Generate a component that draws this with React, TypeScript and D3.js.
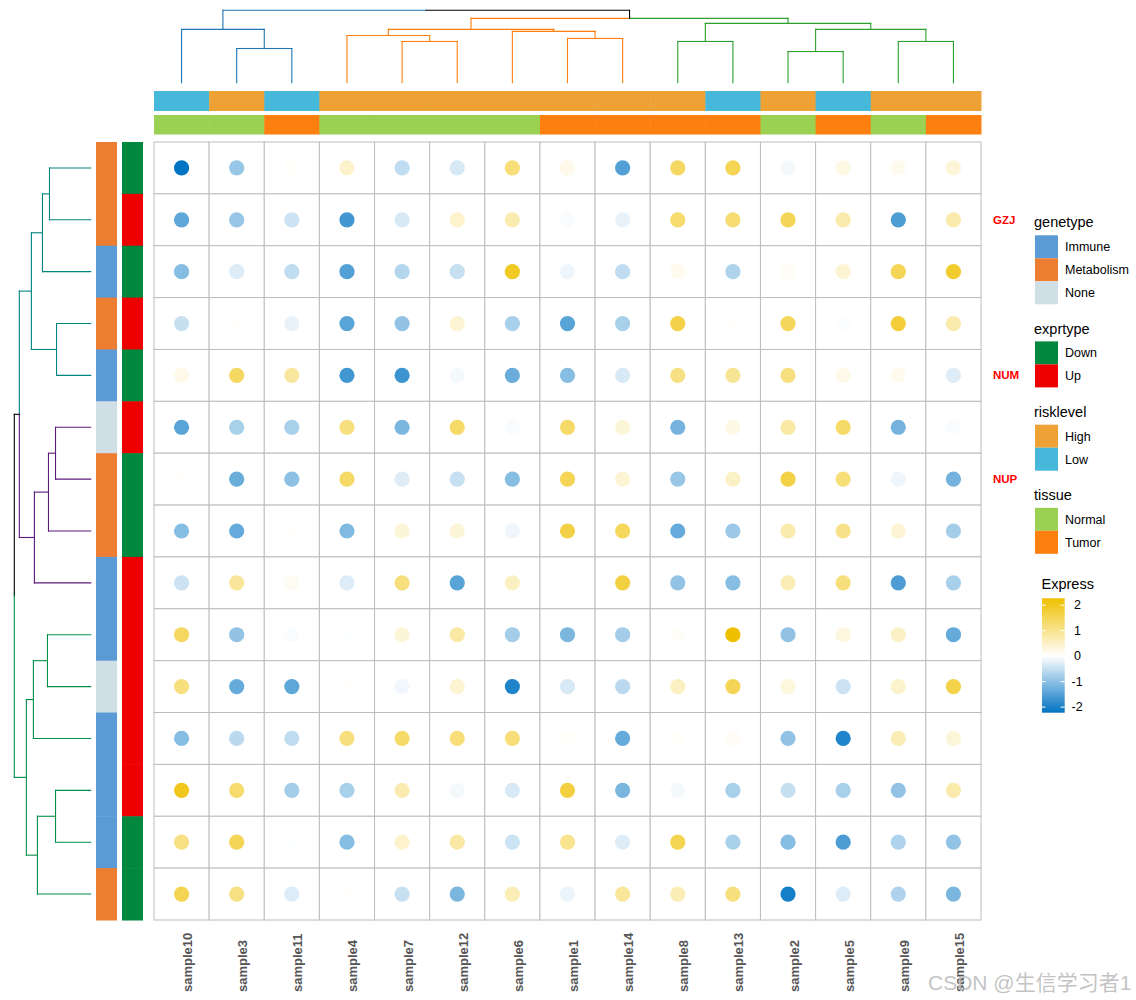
import React from 'react';
import * as d3 from 'd3';

// ---------------- data ----------------
const samples = ["sample10","sample3","sample11","sample4","sample7","sample12","sample6","sample1","sample14","sample8","sample13","sample2","sample5","sample9","sample15"];
const rowLabels = ["", "GZJ", "", "", "NUM", "", "NUP", "", "", "", "", "", "", "", ""];
const genetype = ["Metabolism","Metabolism","Immune","Metabolism","Immune","None","Metabolism","Metabolism","Immune","Immune","None","Immune","Immune","Immune","Metabolism"];
const exprtype = ["Down","Up","Down","Up","Down","Up","Down","Down","Up","Up","Up","Up","Up","Down","Down"];
const risklevel = ["Low","High","Low","High","High","High","High","High","High","High","Low","High","Low","High","High"];
const tissue = ["Normal","Normal","Tumor","Normal","Normal","Normal","Normal","Tumor","Tumor","Tumor","Tumor","Normal","Tumor","Normal","Tumor"];

const expr: number[][] = [
  [-2.22,-0.9,0.05,0.45,-0.55,-0.35,1.2,0.2,-1.5,1.4,1.5,-0.1,0.25,0.15,0.35],
  [-1.4,-0.9,-0.45,-1.65,-0.35,0.45,0.7,-0.05,-0.2,1.3,1.25,1.5,0.75,-1.55,0.75],
  [-1.05,-0.3,-0.55,-1.5,-0.65,-0.5,1.95,-0.15,-0.55,0.15,-0.7,0.1,0.4,1.5,1.85],
  [-0.5,0.03,-0.2,-1.45,-0.95,0.4,-0.75,-1.45,-0.75,1.6,0.03,1.45,-0.03,1.75,0.75],
  [0.2,1.4,0.85,-1.65,-1.7,-0.1,-1.3,-1.05,-0.35,1.1,0.95,1.15,0.2,0.15,-0.3],
  [-1.45,-0.75,-0.75,1.15,-1.15,1.35,-0.05,1.35,0.35,-1.2,0.25,0.8,1.35,-1.2,-0.05],
  [0.02,-1.3,-1.0,1.35,-0.3,-0.5,-1.05,1.5,0.4,-0.9,0.5,1.65,1.2,-0.15,-1.2],
  [-1.05,-1.35,0.03,-1.1,0.35,0.35,-0.15,1.65,1.45,-1.35,-0.85,0.75,1.05,0.4,-0.8],
  [-0.45,0.9,0.12,-0.3,1.15,-1.45,0.55,0.02,1.7,-0.95,-1.05,0.65,1.15,-1.55,-0.75],
  [1.4,-0.95,-0.05,-0.02,0.35,0.8,-0.8,-1.15,-0.8,0.07,2.27,-0.95,0.3,0.5,-1.35],
  [1.15,-1.35,-1.4,0.02,-0.12,0.4,-1.95,-0.35,-0.6,0.55,1.5,0.3,-0.45,0.45,1.6],
  [-1.05,-0.6,-0.55,1.15,1.35,1.2,1.2,0.05,-1.35,0.05,0.1,-0.95,-1.95,0.65,0.35],
  [2.0,1.3,-0.8,-0.75,0.7,-0.1,-0.35,1.7,-1.15,-0.1,-0.75,-0.5,-0.75,-0.95,0.75],
  [1.1,1.5,-0.02,-1.05,0.45,0.8,-0.45,1.0,-0.3,1.55,-0.75,-1.05,-1.55,-0.7,-0.95],
  [1.55,1.1,-0.3,0.03,-0.5,-1.15,0.65,-0.18,0.9,0.65,1.15,-2.05,-0.3,-0.7,-1.15],
];

const colorTicks = [-2, -1, 0, 1, 2];

// dendrograms (merge heights, leaves are indices)
type TNode = number | { h: number; col?: string; c: TNode[] };
const colClusterColors = ["#1f77b4", "#ff7f0e", "#2ca02c"];
const rowClusterColors = ["#00857f", "#5b1a7d", "#009048"];

const colTree: TNode = { h: 7.2, col: "#000000", c: [
  { h: 5.3, col: colClusterColors[0], c: [0, { h: 3.4, c: [1, 2] }] },
  { h: 6.4, col: "#000000", c: [
    { h: 5.3, col: colClusterColors[1], c: [
      { h: 4.7, c: [3, { h: 4.1, c: [4, 5] }] },
      { h: 5.1, c: [6, { h: 4.4, c: [7, 8] }] },
    ] },
    { h: 5.9, col: colClusterColors[2], c: [
      { h: 4.1, c: [9, 10] },
      { h: 5.3, c: [{ h: 3.1, c: [11, 12] }, { h: 4.1, c: [13, 14] }] },
    ] },
  ] },
] };

const rowTree: TNode = { h: 7.6, col: "#000000", c: [
  { h: 7.1, col: "#000000", c: [
    { h: 5.9, col: rowClusterColors[0], c: [
      { h: 4.8, c: [{ h: 4.1, c: [0, 1] }, 2] },
      { h: 3.4, c: [3, 4] },
    ] },
    { h: 5.6, col: rowClusterColors[1], c: [
      { h: 4.2, c: [{ h: 3.5, c: [5, 6] }, 7] },
      8,
    ] },
  ] },
  { h: 6.4, col: rowClusterColors[2], c: [
    { h: 5.7, c: [{ h: 4.3, c: [9, 10] }, 11] },
    { h: 5.3, c: [{ h: 3.5, c: [12, 13] }, 14] },
  ] },
] };

const genetypeColors: Record<string, string> = { Immune: "#5b9bd5", Metabolism: "#ed7d31", None: "#d0dfe6" };
const exprtypeColors: Record<string, string> = { Down: "#00883f", Up: "#ee0000" };
const riskColors: Record<string, string> = { High: "#eea236", Low: "#46b8da" };
const tissueColors: Record<string, string> = { Normal: "#9bd152", Tumor: "#fd7f10" };

// ---------------- layout ----------------
const W = 1136, H = 1000;
const hmX0 = 154, hmX1 = 981, hmY0 = 142, hmY1 = 920;
const FONT = "'Liberation Sans', Arial, 'Noto Sans CJK SC', sans-serif";

type Seg = { x1: number; y1: number; x2: number; y2: number; color: string };

function layoutTree(node: TNode, posOf: (i: number) => number, inherited: string, segs: { p1: number; h1: number; p2: number; h2: number; color: string }[]): { pos: number; h: number; color: string } {
  if (typeof node === "number") return { pos: posOf(node), h: 0, color: inherited };
  const color = node.col ?? inherited;
  const kids = node.c.map(k => layoutTree(k, posOf, color, segs));
  const pos = d3.mean(kids, k => k.pos) as number;
  kids.forEach(k => {
    segs.push({ p1: k.pos, h1: k.h, p2: k.pos, h2: node.h, color: k.color });
    segs.push({ p1: k.pos, h1: node.h, p2: pos, h2: node.h, color: k.color });
  });
  return { pos, h: node.h, color };
}

export default function App() {
  const x = d3.scaleBand<number>().domain(d3.range(samples.length)).range([hmX0, hmX1]);
  const y = d3.scaleBand<number>().domain(d3.range(expr.length)).range([hmY0, hmY1]);
  const flat = expr.flat();
  const [vmin, vmax] = d3.extent(flat) as [number, number];
  const color = d3.scaleLinear<string>().domain([vmin, 0, vmax]).range(["#0073C2", "#FFFFFF", "#EFC000"]).interpolate(d3.interpolateRgb);

  // top dendrogram
  const topH = d3.scaleLinear().domain([0, 7.2]).range([82.7, 10.3]);
  const topSegsRaw: any[] = [];
  layoutTree(colTree, i => (x(i) as number) + x.bandwidth() / 2, "#000000", topSegsRaw);
  const topSegs: Seg[] = topSegsRaw.map(s => ({ x1: s.p1, y1: topH(s.h1), x2: s.p2, y2: topH(s.h2), color: s.color }));

  // left dendrogram
  const leftH = d3.scaleLinear().domain([0, 7.6]).range([90.7, 14.3]);
  const leftSegsRaw: any[] = [];
  layoutTree(rowTree, i => (y(i) as number) + y.bandwidth() / 2, "#000000", leftSegsRaw);
  const leftSegs: Seg[] = leftSegsRaw.map(s => ({ x1: leftH(s.h1), y1: s.p1, x2: leftH(s.h2), y2: s.p2, color: s.color }));

  // legend color bar
  const barY = d3.scaleLinear().domain([vmin, vmax]).range([712.7, 598.3]);
  const gradStops = d3.range(0, 1.0001, 0.05).map(t => ({ t, c: color(vmin + (vmax - vmin) * t) }));

  const legends = [
    { title: "genetype", ty: 222.4, y0: 235.3, items: ["Immune", "Metabolism", "None"], colors: genetypeColors },
    { title: "exprtype", ty: 328.8, y0: 341.4, items: ["Down", "Up"], colors: exprtypeColors },
    { title: "risklevel", ty: 411.9, y0: 424.7, items: ["High", "Low"], colors: riskColors },
    { title: "tissue", ty: 495, y0: 507.8, items: ["Normal", "Tumor"], colors: tissueColors },
  ];
  const itemH = 23;

  return (
    <svg width={W} height={H} style={{ position: "absolute", left: 0, top: 0, background: "#fff" }} fontFamily={FONT}>
      <defs>
        <linearGradient id="exprGrad" x1="0" y1="1" x2="0" y2="0">
          {gradStops.map(s => <stop key={s.t} offset={s.t} stopColor={s.c} />)}
        </linearGradient>
      </defs>
      <rect width={W} height={H} fill="#fff" />

      {/* top dendrogram */}
      <g fill="none" strokeWidth={1.1}>
        {topSegs.map((s, i) => <line key={i} x1={s.x1} y1={s.y1} x2={s.x2} y2={s.y2} stroke={s.color} strokeLinecap="square" />)}
      </g>
      {/* left dendrogram */}
      <g fill="none" strokeWidth={1.1}>
        {leftSegs.map((s, i) => <line key={i} x1={s.x1} y1={s.y1} x2={s.x2} y2={s.y2} stroke={s.color} strokeLinecap="square" />)}
      </g>

      {/* top annotations */}
      {risklevel.map((r, i) => <rect key={"r" + i} x={x(i)} y={91} width={x.bandwidth() + 0.5} height={20} fill={riskColors[r]} />)}
      {tissue.map((r, i) => <rect key={"t" + i} x={x(i)} y={115} width={x.bandwidth() + 0.5} height={19.5} fill={tissueColors[r]} />)}

      {/* left annotations */}
      {genetype.map((g, i) => <rect key={"g" + i} x={96} y={y(i)} width={21} height={y.bandwidth() + 0.5} fill={genetypeColors[g]} />)}
      {exprtype.map((g, i) => <rect key={"e" + i} x={122} y={y(i)} width={21} height={y.bandwidth() + 0.5} fill={exprtypeColors[g]} />)}

      {/* heatmap grid */}
      <g>
        {expr.map((row, r) => row.map((v, c) => (
          <rect key={`c${r}-${c}`} x={x(c)} y={y(r)} width={x.bandwidth()} height={y.bandwidth()} fill="#fff" stroke="#bdbdbd" strokeWidth={1} />
        )))}
        {expr.map((row, r) => row.map((v, c) => (
          <circle key={`d${r}-${c}`} cx={(x(c) as number) + x.bandwidth() / 2} cy={(y(r) as number) + y.bandwidth() / 2} r={7.6} fill={color(v)} />
        )))}
      </g>

      {/* row labels */}
      {rowLabels.map((l, i) => l ? (
        <text key={"rl" + i} x={993} y={(y(i) as number) + y.bandwidth() / 2 + 4} fontSize={11.5} fontWeight="bold" fill="#ff0000">{l}</text>
      ) : null)}

      {/* column labels */}
      {samples.map((s, i) => (
        <text key={"cl" + i} transform={`translate(${(x(i) as number) + x.bandwidth() / 2 + 10.5},992) rotate(-90)`} fontSize={13} fontWeight="bold" fill="#555555">{s}</text>
      ))}

      {/* discrete legends */}
      {legends.map(lg => (
        <g key={lg.title}>
          <text x={1034} y={lg.ty + 5} fontSize={14.5} fill="#000">{lg.title}</text>
          {lg.items.map((it, k) => (
            <g key={it}>
              <rect x={1035} y={lg.y0 + k * itemH} width={23} height={itemH} fill={lg.colors[it]} />
              <text x={1065} y={lg.y0 + k * itemH + itemH / 2 + 4.3} fontSize={12.5} fill="#000">{it}</text>
            </g>
          ))}
        </g>
      ))}

      {/* continuous legend */}
      <text x={1041.5} y={589} fontSize={14.5} fill="#000">Express</text>
      <rect x={1042} y={barY(vmax)} width={22.7} height={barY(vmin) - barY(vmax)} fill="url(#exprGrad)" />
      {colorTicks.map(t => (
        <g key={"tk" + t}>
          <line x1={1042} x2={1045.5} y1={barY(t)} y2={barY(t)} stroke="#fff" strokeWidth={1} />
          <line x1={1060.7} x2={1064.7} y1={barY(t)} y2={barY(t)} stroke="#fff" strokeWidth={1} />
          <text x={t < 0 ? 1071.5 : 1074} y={barY(t) + 4.3} fontSize={12.5} fill="#000">{t < 0 ? `-${Math.abs(t)}` : `${t}`}</text>
        </g>
      ))}

      {/* watermark */}
      <text x={928} y={990} fontSize={21} fill="#b8b8b8" fillOpacity={0.85}>CSDN @生信学习者1</text>
    </svg>
  );
}
